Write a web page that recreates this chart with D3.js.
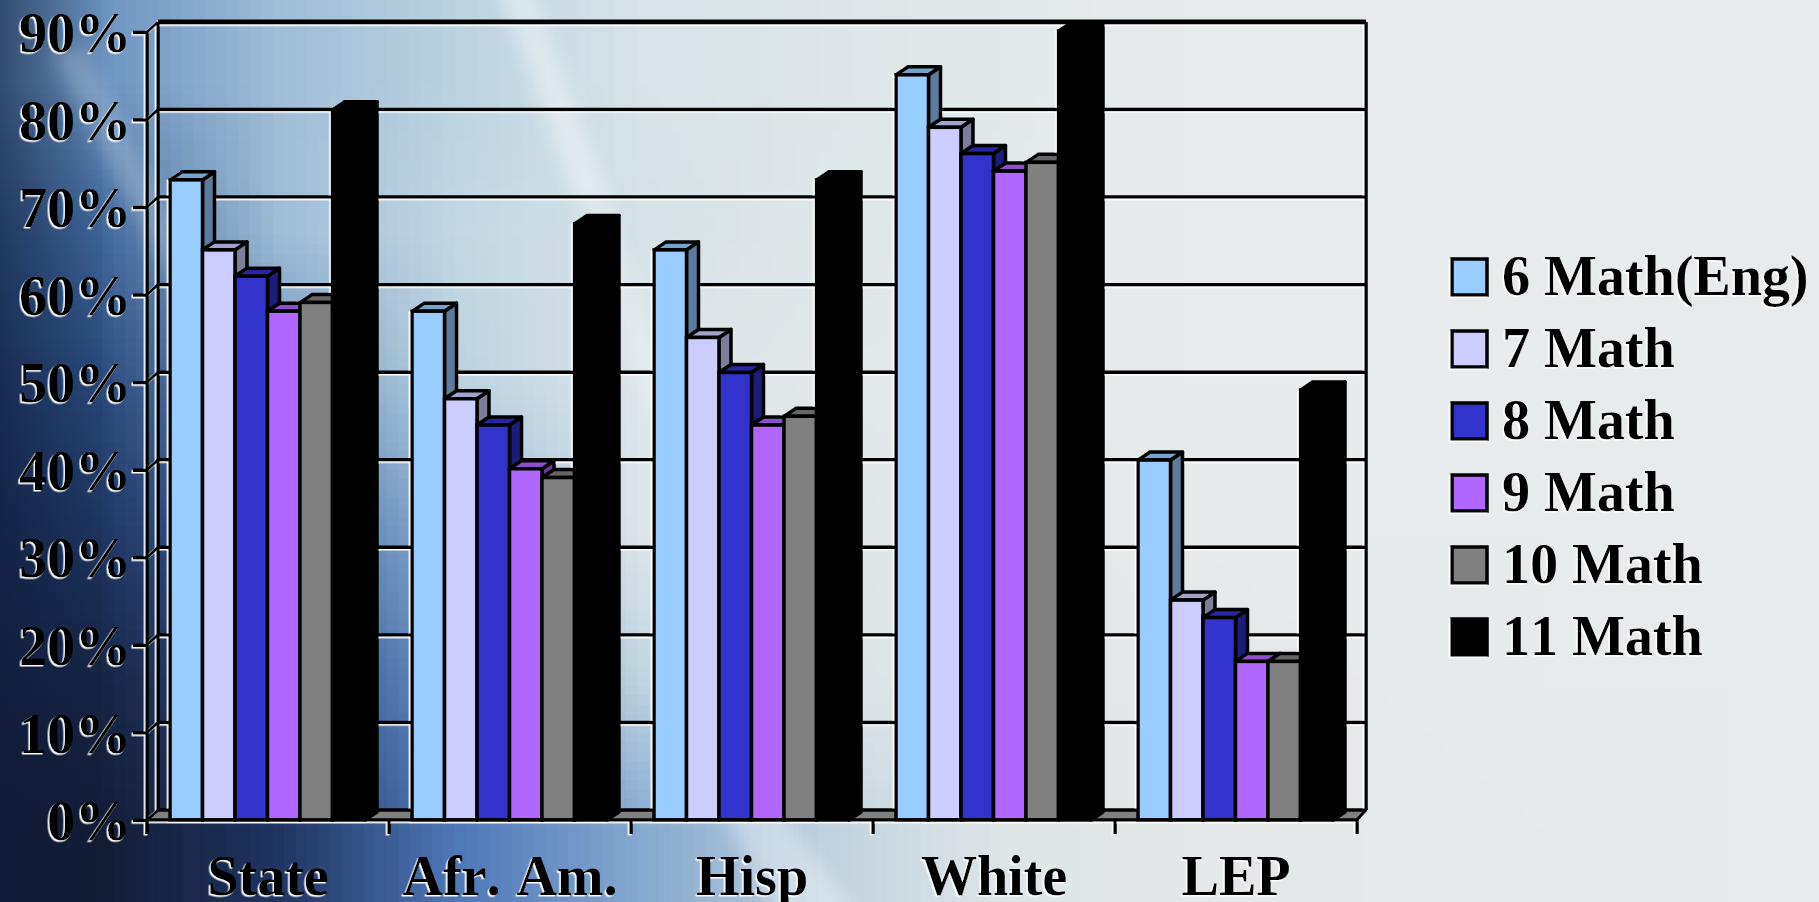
<!DOCTYPE html>
<html>
<head>
<meta charset="utf-8">
<script src="https://d3js.org/d3.v7.min.js"></script>
<style>
  html, body { margin: 0; padding: 0; background: #e8ebeb; overflow: hidden; }
  canvas, svg { position: absolute; left: 0; top: 0; display: block; }
  text { font-family: "Liberation Serif", serif; font-weight: bold; fill: #000; font-kerning: none; }
</style>
</head>
<body>
<script>
var categories = ['State', 'Afr. Am.', 'Hisp', 'White', 'LEP'];
var seriesNames = ['6 Math(Eng)', '7 Math', '8 Math', '9 Math', '10 Math', '11 Math'];
var seriesColors = ['#99CCFF', '#CCCCFF', '#3333CC', '#B066FF', '#808080', '#000000'];

var math6 = [73, 58, 65, 85, 41];
var math7 = [65, 48, 55, 79, 25];
var math8 = [62, 45, 51, 76, 23];
var math9 = [58, 40, 45, 74, 18];
var math10 = [59, 39, 46, 75, 18];
var math11 = [81, 68, 73, 90, 49];
var allSeries = [math6, math7, math8, math9, math10, math11];

var yTicks = [0, 10, 20, 30, 40, 50, 60, 70, 80, 90];

// coarse colour map of the slide background, stretched over the page
var bgRows = [
  ['#6b94c2', '#a0bdd6', '#bcd3e0', '#d8e4e8', '#dde7e9', '#e3e9ea', '#e8ebeb', '#e8ebeb', '#e8ebeb', '#e8ebeb'],
  ['#3f689c', '#a0bdd6', '#c4d8e3', '#d6e2e6', '#dfe7e9', '#e4e9ea', '#e8ebeb', '#e8ebeb', '#e8ebeb', '#e8ebeb'],
  ['#2a4a7c', '#6f95c0', '#bdd3df', '#dde6ea', '#e3e8ea', '#e6eaea', '#e8ebeb', '#e8ebeb', '#e8ebeb', '#e8ebeb'],
  ['#1f3562', '#3f6aa5', '#92b2d4', '#dfe6ea', '#e0e6e8', '#e5e8e9', '#e7eaea', '#e8ebeb', '#e8ebeb', '#e8ebeb'],
  ['#182544', '#2b4a85', '#6a92c4', '#c0d4e0', '#dce4e7', '#e2e7e8', '#e6e9e9', '#e7eaea', '#e8ebeb', '#e8ebeb'],
  ['#141c34', '#1f3462', '#4f7ab8', '#85a9d0', '#c0d2de', '#dfe5e7', '#e4e8e8', '#e6e9e9', '#e7eaea', '#e8ebeb']
];

var width = 1819, height = 902;
var left = 147, right = 1357, top_ = 32, bottom = 820;
var wallX = 11, wallY = 10;    // offset of the back wall
var wallRight = 1366;
var barDX = 12, barDY = 8;     // bar depth

// background
var bgCanvas = d3.select('body').append('canvas')
  .attr('width', bgRows[0].length).attr('height', bgRows.length)
  .style('width', width + 'px').style('height', height + 'px');
var ctx = bgCanvas.node().getContext('2d');
bgRows.forEach(function (row, r) {
  row.forEach(function (c, i) {
    ctx.fillStyle = c;
    ctx.fillRect(i, r, 1, 1);
  });
});

var svg = d3.select('body').append('svg').attr('width', width).attr('height', height);
var defs = svg.append('defs');

defs.append('filter').attr('id', 'blur').attr('x', '-50%').attr('y', '-50%').attr('width', '200%').attr('height', '200%')
  .append('feGaussianBlur').attr('stdDeviation', 9);

var edgeGrad = defs.append('linearGradient').attr('id', 'leftEdge');
edgeGrad.append('stop').attr('offset', 0).attr('stop-color', '#0e1a38').attr('stop-opacity', 0.6);
edgeGrad.append('stop').attr('offset', 1).attr('stop-color', '#0e1a38').attr('stop-opacity', 0);
svg.append('rect').attr('width', 110).attr('height', height).attr('fill', 'url(#leftEdge)');

var streaks = [
  { d: 'M495,-20 L530,-20 L610,200 L575,200 Z', o: 0.4 },
  { d: 'M575,200 L610,200 L680,420 L650,420 Z', o: 0.25 },
  { d: 'M50,50 L85,50 L215,300 L185,310 Z', o: 0.2 },
  { d: 'M700,770 L750,770 L860,920 L780,920 Z', o: 0.35 }
];
svg.append('g').selectAll('path').data(streaks).enter().append('path')
  .attr('d', function (d) { return d.d; })
  .attr('fill', '#fff')
  .attr('opacity', function (d) { return d.o; })
  .attr('filter', 'url(#blur)');

// white edge that sits under all the chart ink
var shadow = defs.append('filter').attr('id', 'edge').attr('filterUnits', 'userSpaceOnUse')
  .attr('x', 0).attr('y', 0).attr('width', width).attr('height', height);
shadow.append('feDropShadow')
  .attr('dx', -1.5).attr('dy', 1.5).attr('stdDeviation', 0.3)
  .attr('flood-color', '#fff').attr('flood-opacity', 1);

var chart = svg.append('g').attr('filter', 'url(#edge)');

var x = d3.scaleBand().domain(categories).range([left, right]);
var inner = d3.scaleBand().domain(d3.range(seriesNames.length)).range([23, x.bandwidth() - 24]);
var y = d3.scaleLinear().domain([0, 90]).range([bottom, top_]);

// floor
chart.append('path')
  .attr('d', 'M' + left + ',' + bottom + 'L' + (left + wallX) + ',' + (bottom - wallY) +
    'L' + wallRight + ',' + (bottom - wallY) + 'L' + right + ',' + bottom + 'Z')
  .attr('fill', '#808080').attr('stroke', '#000').attr('stroke-width', 2);

// back wall gridlines and their run down the side wall
chart.append('g').selectAll('line').data(yTicks).enter().append('line')
  .attr('x1', left + wallX).attr('x2', wallRight)
  .attr('y1', function (d) { return y(d) - wallY; })
  .attr('y2', function (d) { return y(d) - wallY; })
  .attr('stroke', '#000')
  .attr('stroke-width', function (d) { return d === 90 ? 5 : 3.5; });

chart.append('g').selectAll('line').data(yTicks).enter().append('line')
  .attr('x1', left).attr('x2', left + wallX)
  .attr('y1', function (d) { return y(d); })
  .attr('y2', function (d) { return y(d) - wallY; })
  .attr('stroke', '#000').attr('stroke-width', 3);

[left + wallX, wallRight].forEach(function (wx) {
  chart.append('line').attr('x1', wx).attr('x2', wx)
    .attr('y1', y(90) - wallY).attr('y2', y(0) - wallY)
    .attr('stroke', '#000').attr('stroke-width', 3.5);
});
chart.append('line').attr('x1', right).attr('x2', wallRight)
  .attr('y1', bottom).attr('y2', bottom - wallY)
  .attr('stroke', '#000').attr('stroke-width', 3);

// bars
var groups = chart.append('g').selectAll('g').data(categories).enter().append('g');

groups.each(function (cat, ci) {
  var g = d3.select(this);
  allSeries.forEach(function (values, si) {
    var x0 = x(cat) + inner(si);
    var x1 = x0 + inner.bandwidth();
    var yv = y(values[ci]) - 1;
    var base = d3.color(seriesColors[si]);

    g.append('path')   // side
      .attr('d', 'M' + x1 + ',' + yv + 'L' + (x1 + barDX) + ',' + (yv - barDY) +
        'L' + (x1 + barDX) + ',' + (bottom - barDY) + 'L' + x1 + ',' + bottom + 'Z')
      .attr('fill', base.darker(1.4)).attr('stroke', '#000').attr('stroke-width', 3.5).attr('stroke-linejoin', 'round');
    g.append('path')   // top
      .attr('d', 'M' + x0 + ',' + yv + 'L' + (x0 + barDX) + ',' + (yv - barDY) +
        'L' + (x1 + barDX) + ',' + (yv - barDY) + 'L' + x1 + ',' + yv + 'Z')
      .attr('fill', base.darker(0.65)).attr('stroke', '#000').attr('stroke-width', 3.5).attr('stroke-linejoin', 'round');
    g.append('rect')   // front
      .attr('x', x0).attr('y', yv)
      .attr('width', inner.bandwidth()).attr('height', bottom - yv)
      .attr('fill', base).attr('stroke', '#000').attr('stroke-width', 3.5);
  });
});

// axes
var yAxis = d3.axisLeft(y)
  .tickValues(yTicks)
  .tickSize(14)
  .tickPadding(2)
  .tickFormat(function (d) { return d + '%'; });

var yG = chart.append('g').attr('transform', 'translate(' + left + ',0)').call(yAxis);
yG.select('.domain').attr('d', 'M0,' + y(90) + 'V' + (bottom + 14)).attr('stroke', '#000').attr('stroke-width', 3.5);
yG.selectAll('.tick line').attr('stroke', '#000').attr('stroke-width', 3.5);
yG.selectAll('.tick text')
  .attr('font-family', '"Liberation Serif", serif').attr('font-size', 56).attr('dy', '0.35em').attr('fill', '#000');

var xAxis = d3.axisBottom(x).tickSize(0);
var xG = chart.append('g').attr('transform', 'translate(0,' + bottom + ')').call(xAxis);
xG.select('.domain').attr('d', 'M' + left + ',0H' + right).attr('stroke', '#000').attr('stroke-width', 3.5);
xG.selectAll('.tick line').remove();
xG.selectAll('.tick text')
  .attr('font-family', '"Liberation Serif", serif').attr('font-size', 56)
  .attr('y', 75).attr('dy', 0).attr('fill', '#000')
  .style('word-spacing', '2px');

// category ticks fall on the band edges
xG.selectAll('line.edge').data(categories.concat(['end'])).enter().append('line')
  .attr('class', 'edge')
  .attr('x1', function (d) { return d === 'end' ? right : x(d); })
  .attr('x2', function (d) { return d === 'end' ? right : x(d); })
  .attr('y1', 0).attr('y2', 14)
  .attr('stroke', '#000').attr('stroke-width', 3.5);

// legend
var legY = d3.scalePoint().domain(seriesNames).range([295, 655]);
var leg = chart.append('g').selectAll('g').data(seriesNames).enter().append('g')
  .attr('transform', function (d) { return 'translate(1452,' + legY(d) + ')'; });

leg.append('rect')
  .attr('x', 0).attr('y', -36).attr('width', 35).attr('height', 36)
  .attr('fill', function (d, i) { return seriesColors[i]; })
  .attr('stroke', '#000').attr('stroke-width', 3.5);

leg.append('text')
  .attr('x', 50)
  .attr('font-size', 56)
  .text(function (d) { return d; });
</script>
</body>
</html>
